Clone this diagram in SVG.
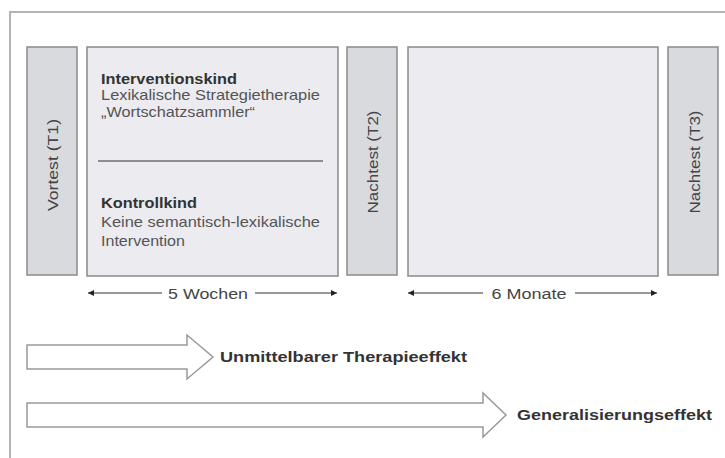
<svg xmlns="http://www.w3.org/2000/svg" width="725" height="458" viewBox="0 0 725 458">
<defs>
<style>
.frame{fill:none;stroke:#b3b3b3;stroke-width:2}
.test{fill:#d9dadd;stroke:#8a8a8a;stroke-width:1.5}
.phase{fill:#ebebf0;stroke:#8a8a8a;stroke-width:1.5}
.t{font-family:"Liberation Sans",Arial,sans-serif;font-size:14.5px;fill:#555}
.b{font-family:"Liberation Sans",Arial,sans-serif;font-size:14.5px;font-weight:bold;fill:#333}
.v{font-family:"Liberation Sans",Arial,sans-serif;font-size:15.5px;fill:#444}
.dur{font-family:"Liberation Sans",Arial,sans-serif;font-size:15.5px;fill:#444}
.dline{stroke:#333;stroke-width:1;fill:none}
.block{fill:#fff;stroke:#999;stroke-width:1.5}
</style>
<marker id="ah" viewBox="0 0 10 10" refX="10" refY="5" markerWidth="8" markerHeight="6" markerUnits="userSpaceOnUse" orient="auto-start-reverse">
<path d="M0,0 L10,5 L0,10 z" fill="#222"/>
</marker>
</defs>
<rect width="725" height="458" fill="#fff"/>
<path class="frame" d="M10,458 V12 H725"/>

<g id="vortest">
<rect class="test" x="27" y="47" width="50" height="228"/>
<text class="v" transform="translate(57.5,165) rotate(-90)" text-anchor="middle" textLength="92" lengthAdjust="spacingAndGlyphs">Vortest (T1)</text>
</g>

<g id="phase1">
<rect class="phase" x="87" y="47" width="251" height="229"/>
<text class="b" x="101" y="84" textLength="136" lengthAdjust="spacingAndGlyphs">Interventionskind</text>
<text class="t" x="101" y="100" textLength="219" lengthAdjust="spacingAndGlyphs">Lexikalische Strategietherapie</text>
<text class="t" x="101" y="117" textLength="154" lengthAdjust="spacingAndGlyphs">„Wortschatzsammler“</text>
<line x1="98" y1="161" x2="323" y2="161" stroke="#333" stroke-width="1"/>
<text class="b" x="101" y="208" textLength="96" lengthAdjust="spacingAndGlyphs">Kontrollkind</text>
<text class="t" x="101" y="227" textLength="219" lengthAdjust="spacingAndGlyphs">Keine semantisch-lexikalische</text>
<text class="t" x="101" y="246" textLength="84" lengthAdjust="spacingAndGlyphs">Intervention</text>
</g>

<g id="nachtest2">
<rect class="test" x="347" y="47" width="50" height="228"/>
<text class="v" transform="translate(377.5,162) rotate(-90)" text-anchor="middle" textLength="103" lengthAdjust="spacingAndGlyphs">Nachtest (T2)</text>
</g>

<g id="phase2">
<rect class="phase" x="408" y="47" width="250" height="229"/>
</g>

<g id="nachtest3">
<rect class="test" x="668" y="47" width="50" height="228"/>
<text class="v" transform="translate(699.5,162) rotate(-90)" text-anchor="middle" textLength="103" lengthAdjust="spacingAndGlyphs">Nachtest (T3)</text>
</g>

<g id="connectors">
<line class="dline" x1="162" y1="293" x2="88" y2="293" marker-end="url(#ah)"/>
<line class="dline" x1="255" y1="293" x2="337" y2="293" marker-end="url(#ah)"/>
<line class="dline" x1="483" y1="293" x2="408" y2="293" marker-end="url(#ah)"/>
<line class="dline" x1="575" y1="293" x2="657" y2="293" marker-end="url(#ah)"/>
<path class="block" d="M27,345 H187 V335 L213,357 L187,379 V369 H27 Z"/>
<path class="block" d="M27,403 H483 V393 L506,415 L483,437 V427 H27 Z"/>
</g>

<g id="labels">
<text class="dur" x="208" y="298.5" text-anchor="middle" textLength="80" lengthAdjust="spacingAndGlyphs">5 Wochen</text>
<text class="dur" x="529" y="298.5" text-anchor="middle" textLength="75" lengthAdjust="spacingAndGlyphs">6 Monate</text>
<text class="b" x="220" y="362" textLength="247" lengthAdjust="spacingAndGlyphs">Unmittelbarer Therapieeffekt</text>
<text class="b" x="517" y="420" textLength="195" lengthAdjust="spacingAndGlyphs">Generalisierungseffekt</text>
</g>
</svg>
